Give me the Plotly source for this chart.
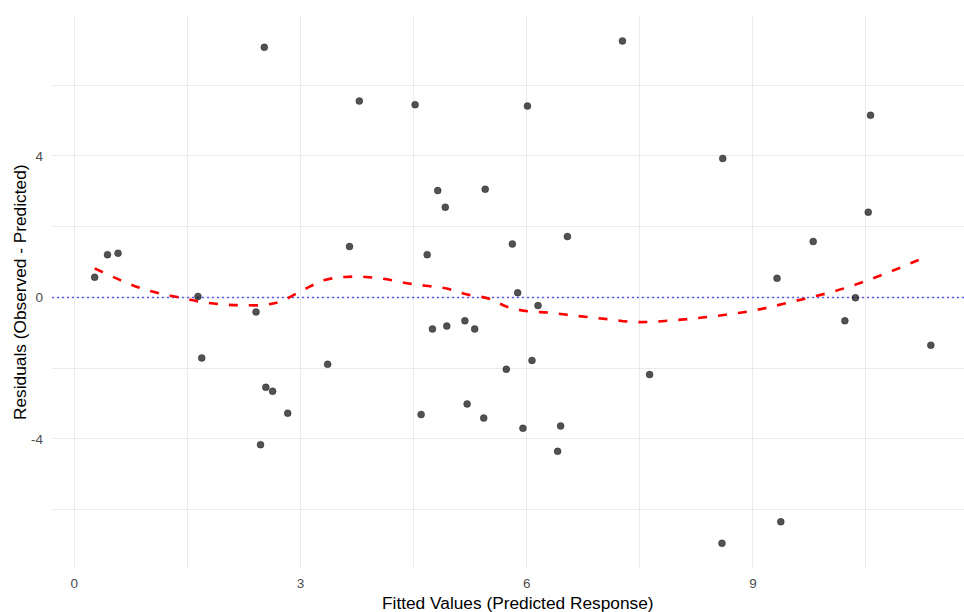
import plotly.graph_objects as go

fitted = [0.27, 0.44, 0.58, 1.64, 1.69, 2.41, 2.47, 2.52, 2.54, 2.63, 2.83, 3.36,
          3.65, 3.78, 4.52, 4.60, 4.68, 4.75, 4.82, 4.92, 4.94, 5.18, 5.21, 5.31,
          5.43, 5.45, 5.73, 5.81, 5.88, 5.95, 6.01, 6.07, 6.15, 6.41, 6.45, 6.54,
          7.27, 7.63, 8.59, 8.60, 9.32, 9.37, 9.80, 10.22, 10.36, 10.53, 10.56, 11.36]
residuals = [0.57, 1.21, 1.25, 0.03, -1.71, -0.41, -4.16, 7.07, -2.54, -2.65, -3.27, -1.89,
             1.44, 5.55, 5.45, -3.31, 1.21, -0.89, 3.02, 2.55, -0.81, -0.66, -3.01, -0.89,
             -3.41, 3.06, -2.03, 1.51, 0.13, -3.70, 5.41, -1.78, -0.23, -4.35, -3.63, 1.72,
             7.25, -2.18, -6.95, 3.93, 0.54, -6.34, 1.58, -0.66, -0.01, 2.41, 5.15, -1.35]

smooth_x = [0.27, 0.61, 0.87, 1.14, 1.42, 1.69, 1.98, 2.24, 2.53, 2.75, 3.06, 3.32, 3.59,
            3.86, 4.12, 4.39, 4.66, 4.94, 5.20, 5.49, 5.76, 6.02, 6.30, 6.57, 6.84, 7.10,
            7.39, 7.65, 7.92, 8.19, 8.45, 8.73, 9.01, 9.27, 9.54, 9.80, 10.09, 10.37, 10.64,
            10.92, 11.19, 11.25]
smooth_y = [0.82, 0.49, 0.27, 0.11, -0.01, -0.13, -0.20, -0.22, -0.21, -0.10, 0.24, 0.49, 0.58,
            0.58, 0.52, 0.41, 0.33, 0.25, 0.09, -0.03, -0.28, -0.39, -0.43, -0.50, -0.56, -0.62,
            -0.69, -0.69, -0.65, -0.60, -0.54, -0.46, -0.37, -0.25, -0.11, 0.02, 0.18, 0.37, 0.58,
            0.81, 1.05, 1.09]

x_ticks = [0, 3, 6, 9]
x_minor = [1.5, 4.5, 7.5, 10.5]
y_ticks = [-4, 0, 4]
y_minor = [-6, -2, 2, 6]

x_title = "Fitted Values (Predicted Response)"
y_title = "Residuals (Observed - Predicted)"

font = "Liberation Sans, Arial, sans-serif"

fig = go.Figure()
fig.add_trace(go.Scatter(
    x=[-0.296, 11.8], y=[0, 0], mode="lines",
    line=dict(color="rgba(40,40,255,0.75)", width=1.4, dash="2px,3px"),
    hoverinfo="skip", showlegend=False))
fig.add_trace(go.Scatter(
    x=fitted, y=residuals, mode="markers",
    marker=dict(size=7, color="rgba(0,0,0,0.68)", line=dict(width=0.6, color="rgba(0,0,0,0.5)")),
    showlegend=False))
fig.add_trace(go.Scatter(
    x=smooth_x, y=smooth_y, mode="lines",
    line=dict(color="red", width=2.6, dash="9px,11px", shape="spline"),
    showlegend=False))

axis_common = dict(
    showline=False, zeroline=False, ticks="", showgrid=True,
    gridcolor="#ebebeb", gridwidth=1.1,
    tickfont=dict(family=font, size=13.5, color="#4d4d4d"),
    automargin=False,
)

fig.update_layout(
    width=964, height=612,
    margin=dict(l=52, r=0, t=16, b=44),
    plot_bgcolor="white", paper_bgcolor="white",
    xaxis=dict(
        range=[-0.296, 11.8], tickvals=x_ticks, ticktext=[str(v) for v in x_ticks],
        minor=dict(tickvals=x_minor, showgrid=True, gridcolor="#ebebeb", gridwidth=0.6),
        ticklabelstandoff=5,
        **axis_common),
    yaxis=dict(
        range=[-7.647, 7.955], tickvals=y_ticks, ticktext=[str(v) for v in y_ticks],
        minor=dict(tickvals=y_minor, showgrid=True, gridcolor="#ebebeb", gridwidth=0.6),
        ticklabelstandoff=8,
        **axis_common),
    annotations=[
        dict(text=x_title, xref="x", yref="paper", x=5.885, y=-0.0634,
             xanchor="center", yanchor="middle", showarrow=False,
             font=dict(family=font, size=17.3, color="black")),
        dict(text=y_title, xref="paper", yref="paper", x=-0.0351, y=0.5,
             xanchor="center", yanchor="middle", showarrow=False, textangle=-90,
             font=dict(family=font, size=17.3, color="black")),
    ],
)

fig.write_html("out.html", config={"displayModeBar": False},
               post_script="document.body.style.margin='0';document.body.style.overflow='hidden';")
